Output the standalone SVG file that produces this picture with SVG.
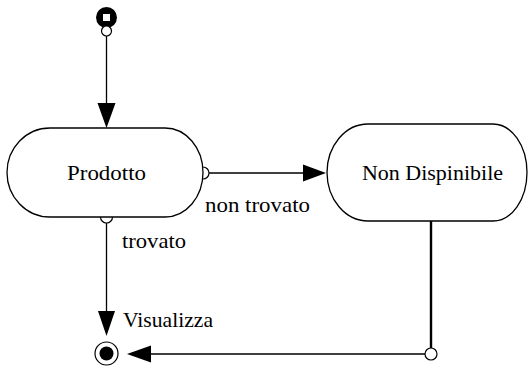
<svg xmlns="http://www.w3.org/2000/svg" width="530" height="376" viewBox="0 0 530 376">
<style>
.st{fill:#fff;stroke:#000;stroke-width:1.3}
.ln{fill:none;stroke:#000;stroke-width:1.3}
.ah{fill:#000;stroke:none}
.pt{fill:#fff;stroke:#000;stroke-width:1.2}
text{font-family:"Liberation Serif","Times New Roman",serif;font-size:22px;fill:#000}
</style>
<rect width="530" height="376" fill="#fff"/>
<g id="connectors">
  <line class="ln" x1="106.5" y1="36" x2="106.5" y2="104"/>
  <polygon class="ah" points="97.5,103 115.5,103 106.5,128"/>
  <line class="ln" x1="209" y1="173" x2="304" y2="173"/>
  <polygon class="ah" points="303,164.5 303,181.5 326,173"/>
  <circle class="pt" cx="203" cy="173" r="6"/>
  <line class="ln" x1="106.5" y1="223" x2="106.5" y2="312"/>
  <polygon class="ah" points="98,311 115,311 106.5,336"/>
  <circle class="pt" cx="106.5" cy="217" r="6"/>
  <line class="ln" x1="431" y1="221" x2="431" y2="348" style="stroke-width:2.4"/>
  <line class="ln" x1="425" y1="354" x2="150" y2="354" style="stroke-width:1.6"/>
  <polygon class="ah" points="151,345.5 151,362.5 127,354"/>
  <circle class="pt" cx="431" cy="354" r="6"/>
  <text x="205" y="211.5" textLength="105" lengthAdjust="spacingAndGlyphs">non trovato</text>
  <text x="122" y="248" textLength="64" lengthAdjust="spacingAndGlyphs">trovato</text>
  <text x="123" y="327" textLength="90" lengthAdjust="spacingAndGlyphs">Visualizza</text>
</g>
<g id="initial">
  <circle cx="106.5" cy="17.5" r="10.5" fill="#000"/>
  <rect x="103" y="14" width="7" height="7" fill="#fff"/>
  <circle class="pt" cx="106.5" cy="31" r="5"/>
</g>
<g id="prodotto">
  <path class="st" d="M50,128 H165 A38,44.5 0 0 1 165,217 H50 A43,44.5 0 0 1 50,128 Z"/>
  <text x="67" y="180" textLength="79" lengthAdjust="spacingAndGlyphs">Prodotto</text>
</g>
<g id="nondispinibile">
  <path class="st" d="M368,124 H493 A34,48.5 0 0 1 493,221 H368 A41,48.5 0 0 1 368,124 Z"/>
  <text x="362" y="180" textLength="141" lengthAdjust="spacingAndGlyphs">Non Dispinibile</text>
</g>
<g id="final">
  <circle class="pt" cx="106.5" cy="353.5" r="11.5"/>
  <circle cx="106.5" cy="353.5" r="7" fill="#000"/>
</g>
</svg>
